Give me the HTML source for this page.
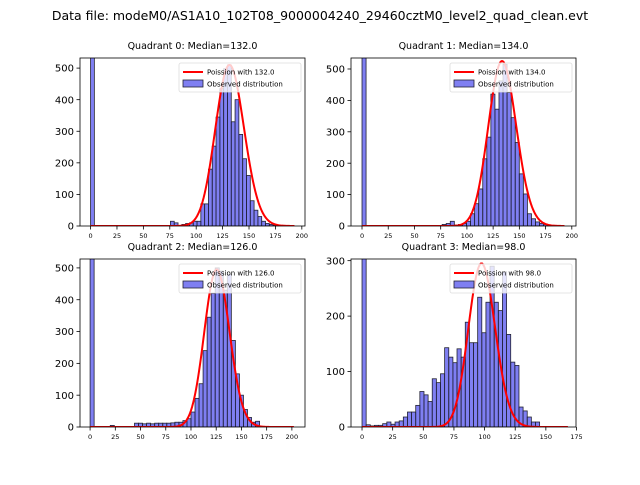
<!DOCTYPE html>
<html><head><meta charset="utf-8"><style>
body{margin:0;background:#fff;}
svg text{font-family:"DejaVu Sans","Liberation Sans",sans-serif;}
</style></head><body>
<svg id="fig" width="640" height="480" xmlns="http://www.w3.org/2000/svg">
<rect width="640" height="480" fill="#fff"/>
<text x="320" y="20" text-anchor="middle" font-size="12.5">Data file: modeM0/AS1A10_102T08_9000004240_29460cztM0_level2_quad_clean.evt</text>
</svg>
<script>
// ---- data ----
const titles = ["Quadrant 0: Median=132.0","Quadrant 1: Median=134.0","Quadrant 2: Median=126.0","Quadrant 3: Median=98.0"];
const medians = [132, 134, 126, 98];
const zeroBin = [2000, 2000, 2000, 2000];
const binWidths = [3.6, 3.87, 4.0, 3.37];
const firstBinStart = [75.6, 76.4, 20, 3.37];
const q0Counts = [15,10,0,5,8,10,15,15,70,70,180,253,345,435,498,510,330,400,290,213,160,80,50,30,15,8,5,3];
const q1Counts = [5,8,15,3,5,8,15,39,71,118,214,283,420,372,462,515,425,345,266,166,102,39,23,13,8,5];
const q2Counts = [5,0,0,0,0,0,12,12,10,12,10,12,12,12,12,13,15,15,20,26,47,90,136,240,345,420,500,490,430,480,272,167,100,55,30,15,18];
const q3Counts = [4,2,3,3,6,9,5,9,11,18,27,27,39,64,58,46,87,80,96,143,126,116,141,126,189,152,152,234,170,225,290,225,210,280,167,117,111,36,29,18,9,9];
const curvePeaks = [510, 525, 495, 295];
const curveWidth = [1.18, 1.15, 1.11, 1.1];
const xTicks = [[0,25,50,75,100,125,150,175,200],[0,25,50,75,100,125,150,175,200],[0,25,50,75,100,125,150,175,200],[0,25,50,75,100,125,150,175]];
const yTicks = [[0,100,200,300,400,500],[0,100,200,300,400,500],[0,100,200,300,400,500],[0,100,200,300]];
const countsAll = [q0Counts,q1Counts,q2Counts,q3Counts];
// ---- layout ----
const boxes = [[80,58,225,168],[351,58,225,168],[80,259,225,168],[351,259,225,168]];
const xlims = [[-10,203],[-10.5,204],[-10,213],[-9,174.6]];
const ylims = [532,535,528,303];
const NS="http://www.w3.org/2000/svg";
const svg=document.getElementById('fig');
function mk(tag,attrs,parent){const e=document.createElementNS(NS,tag);for(const k in attrs)e.setAttribute(k,attrs[k]);(parent||svg).appendChild(e);return e;}
function lgamma(n){let s=0;for(let i=2;i<=n;i++)s+=Math.log(i);return s;}
for(let q=0;q<4;q++){
  const [bx,by,bw,bh]=boxes[q];
  const [x0,x1]=xlims[q];const y1=ylims[q];
  const binW=binWidths[q];
  const sx=v=>bx+(v-x0)/(x1-x0)*bw;
  const sy=v=>by+bh-v/y1*bh;
  const g=mk('g',{});
  
  
  const cid='clip'+q;
  const cp=mk('clipPath',{id:cid},g);mk('rect',{x:bx,y:by,width:bw,height:bh},cp);
  const pg=mk('g',{'clip-path':'url(#'+cid+')'},g);
  const z=mk('rect',{x:sx(0),y:sy(zeroBin[q]),width:sx(binW)-sx(0),height:sy(0)-sy(zeroBin[q]),fill:'rgba(0,0,230,0.5)',stroke:'#223',"stroke-width":0.8},pg);
  
  
  const ct=countsAll[q];
  for(let i=0;i<ct.length;i++){
    if(ct[i]<=0) continue;
    const l=firstBinStart[q]+i*binW;
    const r=mk('rect',{x:sx(l),y:sy(ct[i]),width:sx(l+binW)-sx(l),height:sy(0)-sy(ct[i]),fill:'rgba(0,0,230,0.5)',stroke:'#223',"stroke-width":0.8},pg);
    
    
  }
  const lam=medians[q];
  const lp=k=>k*Math.log(lam)-lam-lgamma(k);
  const pmax=lp(Math.floor(lam));
  const f=curveWidth[q];
  const kmax=q===3?168:(q===2?202:193);
  let d='';
  for(let k=0;k<=kmax;k++){const v=curvePeaks[q]*Math.exp((lp(k)-pmax)/(f*f));d+=(k?'L':'M')+sx(k).toFixed(2)+','+sy(v).toFixed(2);}
  const p=mk('path',{d:d,fill:'none',stroke:'#f00','stroke-width':2},pg);
  
  
  mk('rect',{x:bx,y:by,width:bw,height:bh,fill:'none',stroke:'#000','stroke-width':0.8},g);
  xTicks[q].forEach(t=>{const x=sx(t);mk('line',{x1:x,x2:x,y1:by+bh,y2:by+bh+3.5,stroke:'#000','stroke-width':0.8},g);
    const tx=mk('text',{x:x,y:by+bh+12,'text-anchor':'middle','font-size':6.5},g);tx.textContent=t;
    
    });
  yTicks[q].forEach(t=>{const y=sy(t);mk('line',{x1:bx-3.5,x2:bx,y1:y,y2:y,stroke:'#000','stroke-width':0.8},g);
    const tx=mk('text',{x:bx-6,y:y+3.6,'text-anchor':'end','font-size':10},g);tx.textContent=t;
    
    });
  const tt=mk('text',{x:bx+bw/2,y:by-9,'text-anchor':'middle','font-size':9.5},g);tt.textContent=titles[q];
  
  
  const lx=bx+bw-126,ly=by+5;
  const lg=mk('g',{},g);
  
  
  mk('rect',{x:lx,y:ly,width:122,height:29,fill:'rgba(255,255,255,0.8)',stroke:'#ddd','stroke-width':0.8,rx:2},lg);
  mk('line',{x1:lx+4,x2:lx+24,y1:ly+9,y2:ly+9,stroke:'#f00','stroke-width':2},lg);
  const t1=mk('text',{x:lx+28,y:ly+11.5,'font-size':7},lg);t1.textContent='Poission with '+lam.toFixed(1);
  mk('rect',{x:lx+4,y:ly+17,width:20,height:7,fill:'rgba(0,0,230,0.5)',stroke:'#223','stroke-width':0.8},lg);
  const t2=mk('text',{x:lx+28,y:ly+23.5,'font-size':7},lg);t2.textContent='Observed distribution';
}
</script>
</body></html>
